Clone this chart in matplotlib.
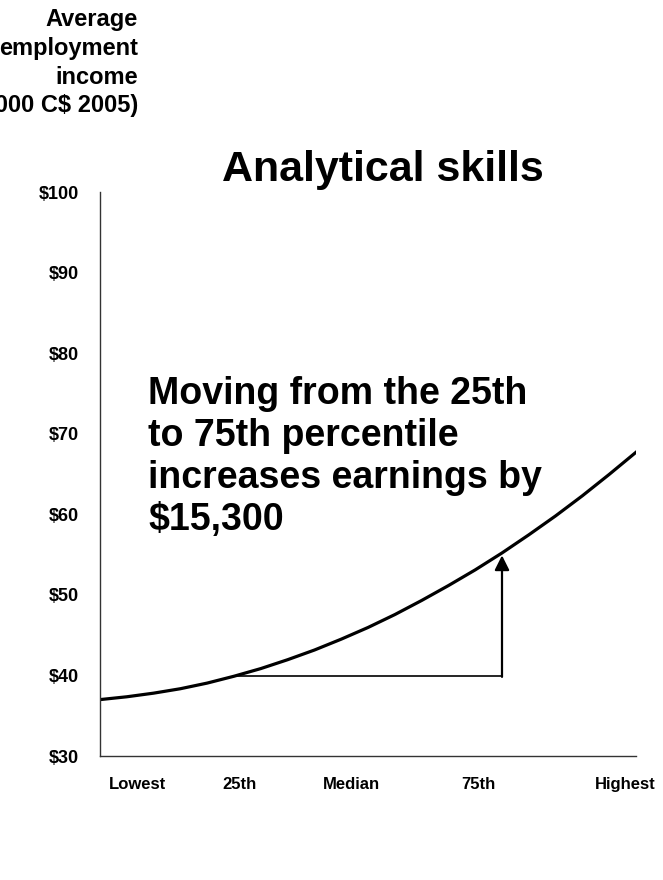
import matplotlib.pyplot as plt

plt.rcParams['font.family'] = ['Liberation Sans', 'DejaVu Sans']
plt.rcParams['font.weight'] = 'bold'

# percentile of analytical skills vs average employment income ($000)
pct = [0, 5, 10, 15, 20, 25, 30, 35, 40, 45, 50, 55, 60, 65, 70, 75, 80, 85, 90, 95, 100]
income = [37.0, 37.35, 37.8, 38.35, 39.05, 39.9, 40.85, 41.95, 43.15, 44.5, 45.95,
          47.55, 49.3, 51.15, 53.1, 55.2, 57.45, 59.8, 62.3, 64.95, 67.7]

low_pct, high_pct = 25, 75
low_val, high_val = 39.9, 55.2

xtick_pos = [7, 26, 47, 70.5, 98]
xtick_labels = ['Lowest', '25th', 'Median', '75th', 'Highest']
ytick_vals = [30, 40, 50, 60, 70, 80, 90, 100]

fig = plt.figure(figsize=(6.63, 8.8), dpi=100)
ax = fig.add_axes([100/663, 1-756/880, 536/663, 564/880])

ax.plot(pct, income, color='black', lw=2.3, solid_joinstyle='round')

# step from 25th to 75th percentile
ax.plot([low_pct, high_pct], [low_val, low_val], color='black', lw=1.2)
ax.annotate('', xy=(high_pct, high_val - 0.3), xytext=(high_pct, low_val - 0.08),
            arrowprops=dict(arrowstyle='-|>', color='black', lw=1.6,
                            mutation_scale=22, shrinkA=0, shrinkB=0))

ax.set_xlim(0, 100)
ax.set_ylim(30, 100)
ax.set_yticks(ytick_vals)
ax.set_yticklabels(['$%d' % v for v in ytick_vals], fontsize=13, fontweight='bold')
ax.set_xticks(xtick_pos)
ax.set_xticklabels(xtick_labels, fontsize=12, fontweight='bold')
ax.tick_params(axis='both', length=0)
ax.tick_params(axis='y', pad=15)
ax.tick_params(axis='x', pad=15)

for s in ['top', 'right']:
    ax.spines[s].set_visible(False)
for s in ['left', 'bottom']:
    ax.spines[s].set_color('#333333')
    ax.spines[s].set_linewidth(1.0)

fig.text(383/663, 1-170/880, 'Analytical skills', fontsize=31,
         fontweight='bold', ha='center', va='center')

fig.text(138/663, 1-8/880, 'Average\nemployment\nincome\n(000 C$ 2005)',
         fontsize=17, fontweight='bold', ha='right', va='top',
         multialignment='right', linespacing=1.32)

fig.text(148/663, 1-376/880,
         'Moving from the 25th\nto 75th percentile\nincreases earnings by\n$15,300',
         fontsize=27, fontweight='bold', ha='left', va='top', linespacing=1.22)

fig.savefig('out.png', dpi=100)
